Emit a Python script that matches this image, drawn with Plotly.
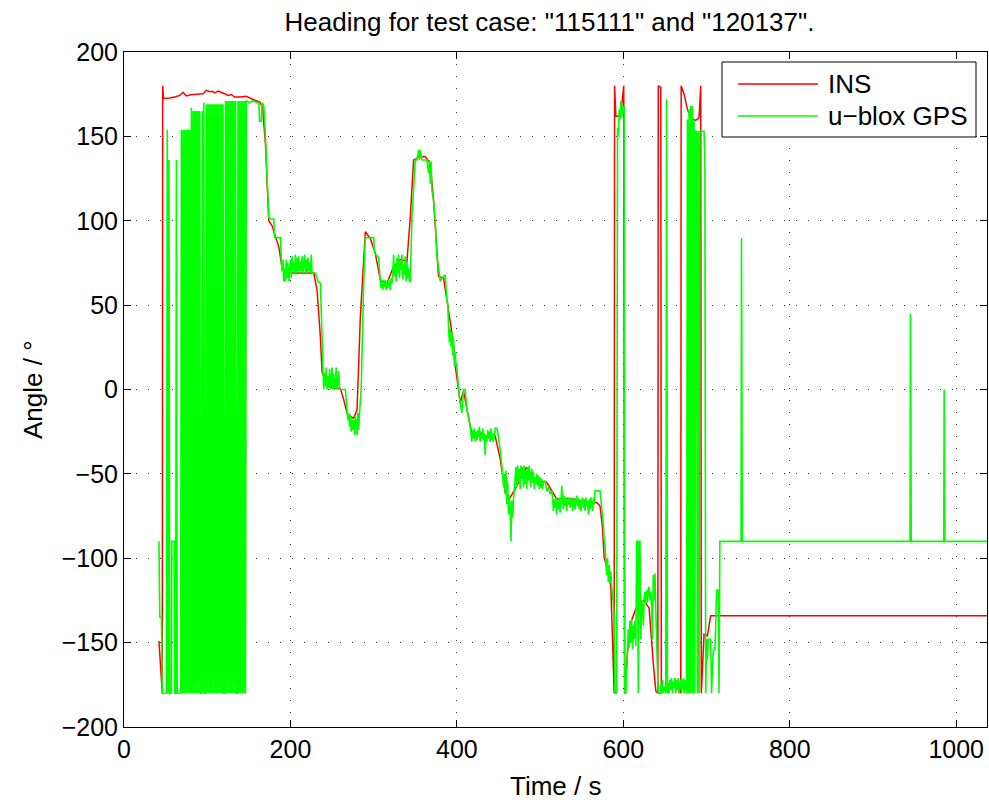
import plotly.graph_objects as go

# ---------------- INS heading (time s, angle deg) ----------------
ins_pts = [
    (42, -149), (46, -180), (46.5, 180), (47.5, 172.5), (55, 172.8), (62, 173.5), (67, 174.3),
    (71, 176), (75, 174), (80, 174.7), (88, 175), (95, 175.3), (99, 177.3), (103, 176.5),
    (106, 176.7), (109, 175.8), (113, 176.9), (117, 176), (121, 175.3), (125, 174.3),
    (129, 174.8), (133, 173.3), (140, 173.3), (147, 173.7), (153, 172.4), (157, 171.4),
    (163, 170.4), (166.5, 167.4), (170, 145), (174, 100), (178, 97), (182, 90.5), (186, 84.6),
    (190, 72), (194, 68), (200, 69), (214, 69), (228, 69), (232, 59), (236, 31), (238, 10.5),
    (242, 5.5), (246, 3), (252, 0.6), (260, 0.6), (264, -6), (268, -14), (272, -16), (276, -17),
    (280, -12), (284, 43), (290, 93.5), (296, 89.5), (302, 80.6), (308, 65), (316, 63),
    (320, 68), (324, 73), (332, 77), (340, 76), (344, 102), (348, 136), (356, 138), (362, 138),
    (368, 134), (372, 112), (378, 67), (384, 66), (388, 53), (392, 40), (396, 27), (398, 14),
    (402, 0), (404, -8), (408, -1), (413, -14), (418, -26.5), (428, -27.5), (446, -27.5),
    (452, -41), (458, -61), (464, -64), (470, -59), (477, -52), (484, -46), (492, -53),
    (500, -54), (508, -55), (514, -60), (520, -65), (530, -64.5), (540, -65), (548, -66),
    (556, -68), (568, -67), (572, -69), (575, -82), (577, -99.5), (581, -107), (585, -117),
    (589, -180), (589.5, 180), (591, 162), (597, 162), (598, 168), (600.5, 180), (601.5, -180),
    (605, -155.6), (609, -138), (615, -130), (621, -126), (625, -125), (631, -129.6),
    (636, -162), (639, -178.6), (641.5, -180), (642, 180), (645, 179), (645.7, -180),
    (649, -178), (653, -176), (660, -174), (665, -176), (669, -180), (669.5, 180), (673, 175),
    (677, 166), (681, 161), (687, 159.5), (691, 161), (693, 180), (693.7, -180), (697, -145),
    (701, -146), (705, -134), (710, -134), (715, -134), (1037, -134),
]

# ---------------- u-blox GPS heading ----------------
gps_start = [
    (42, -90), (43, -135), (45, -135), (46, -180), (47, -180), (48, -180), (49, -180),
    (50, -180), (51, -180), (52, 154), (53, -180), (54, 136), (55, -180), (56, -180),
    (57, -180), (57.5, -90), (60.5, -90), (61, -180), (62, -180), (63, 136), (64, -180),
    (65, -180), (66, -180), (67, -180), (68, -180),
]
gps_dense_t = list(range(69, 148))
gps_dense_v = [
    154, -180, 154, -180, 154, -180, 154, -180, 154, -180, 154, -180,
    167, -180, 165, -180, 165, -180, 165, -180, 165, -180, 165, -180, -180, 165, -180,
    170, -180, -180, 169, -180, 169, -180, 169, -180, 169, -180, 169, -180, 169, -180,
    169, -180, 169, -180, 169, -180, 169, -180, 169, -180, -180,
    171, -180, 171, -180, 171, -180, 171, -180, 171, -180, 171, -180, 171, -180, -180,
    171, -180, 171, -180, 171, -180, 171, -180, 171, -180, 171,
]
gps_track1 = [
    (148, 171), (150, 170), (155, 171), (160, 170), (162, 170), (163, 159), (165, 159),
    (166, 170), (168, 168), (170, 150), (172, 125), (174, 102), (175, 101), (180, 101),
    (181, 90), (188, 90), (189, 77), (190, 70), (191, 77), (192, 64), (193, 72), (194, 64),
    (195, 77), (196, 66), (197, 75), (198, 64), (199, 70), (200, 77), (201, 66), (202, 79),
    (203, 70), (204, 75), (205, 69), (206, 80), (207, 69), (208, 78), (209, 70), (210, 79),
    (211, 69), (212, 76), (213, 70), (214, 79), (215, 69), (216, 74), (217, 80), (218, 69),
    (219, 77), (220, 69), (221, 78), (222, 70), (223, 75), (224, 69), (225, 80), (226, 69),
    (230, 69), (233, 64), (236, 63), (238, 31), (240, 0), (241, 10), (242, 2), (243, 13),
    (244, 0), (245, 8), (246, 1), (247, 12), (248, 0), (249, 6), (250, 13), (251, 0),
    (252, 9), (253, 0), (254, 4), (255, 13), (256, 0), (257, 3), (258, 11), (259, 0),
    (266, 0), (268, -12), (269, -18), (270, -14), (271, -22), (272, -15), (273, -25),
    (274, -17), (275, -24), (276, -18), (277, -27), (278, -16), (279, -20), (280, -27),
    (281, -14), (282, -24), (283, -14), (285, 0), (288, 63), (290, 90), (300, 90), (301, 81),
    (306, 78), (308, 64), (309, 60), (310, 65), (311, 59), (312, 63), (313, 61), (314, 65),
    (315, 59), (316, 64), (317, 60), (318, 65), (319, 62), (320, 59), (321, 66), (322, 63),
    (323, 70), (324, 80), (325, 67), (326, 74), (327, 64), (328, 78), (329, 69), (330, 80),
    (331, 66), (332, 76), (333, 71), (334, 80), (335, 65), (336, 74), (337, 68), (338, 79),
    (339, 64), (340, 76), (341, 66), (342, 72), (343, 64), (344, 64), (346, 102), (350, 136),
    (352, 136), (354, 142), (355, 136), (356, 142), (358, 136), (364, 136), (366, 128),
    (367, 136), (368, 122), (369, 135), (370, 118), (372, 112), (374, 100), (376, 79),
    (378, 72), (380, 64), (382, 66), (386, 68), (388, 53), (389, 51), (390, 37), (391, 28),
    (392, 36), (393, 25), (394, 34), (395, 20), (396, 30), (397, 14), (398, 22), (399, 14),
    (400, 14), (402, 0), (404, -8), (406, -14), (408, 0), (410, 0), (412, -12), (414, -16),
    (416, -22), (418, -31), (419, -24), (420, -29), (421, -23), (422, -31), (423, -25),
    (424, -30), (425, -24), (426, -28), (427, -22), (428, -31), (429, -25), (430, -29),
    (431, -23), (432, -30), (433, -26), (434, -39), (435, -27), (436, -31), (437, -24),
    (438, -29), (439, -25), (440, -31), (441, -23), (442, -30), (443, -26), (444, -31),
    (446, -23), (448, -23), (450, -28),
]
gps_track2 = [
    (452, -36), (454, -45), (456, -57), (457, -50), (458, -62), (459, -48), (460, -68),
    (461, -55), (462, -74), (463, -63), (464, -70), (465, -90), (466, -66), (467, -76),
    (468, -65), (469, -60), (470, -52), (471, -46), (472, -58), (473, -45), (474, -55),
    (475, -47), (476, -59), (477, -45), (478, -53), (479, -46), (480, -58), (481, -45),
    (482, -56), (483, -48), (484, -59), (485, -46), (486, -54), (487, -45), (488, -52),
    (489, -58), (490, -47), (491, -55), (492, -49), (493, -59), (494, -52), (495, -56),
    (496, -50), (497, -57), (498, -51), (499, -59), (500, -52), (501, -58), (502, -53),
    (503, -59), (504, -55), (506, -54), (508, -60), (510, -58), (512, -62), (514, -60),
    (515, -64), (516, -72), (517, -65), (518, -70), (519, -64), (520, -74), (521, -66),
    (522, -71), (523, -64), (524, -73), (525, -67), (526, -57), (527, -65), (528, -71),
    (529, -63), (530, -69), (531, -64), (532, -72), (533, -65), (534, -68), (535, -64),
    (536, -70), (537, -64), (538, -66), (539, -72), (540, -64), (541, -68), (542, -71),
    (543, -65), (544, -63), (545, -69), (546, -64), (547, -71), (548, -65), (549, -72),
    (550, -66), (551, -64), (552, -70), (553, -65), (554, -72), (555, -64), (556, -69),
    (557, -66), (558, -74), (559, -65), (560, -71), (561, -64), (562, -67), (563, -72),
    (564, -64), (565, -68), (566, -60), (572, -60), (574, -70), (576, -80), (577, -89),
    (578, -92), (579, -102), (580, -110), (581, -100), (582, -114), (583, -104), (584, -115),
    (585, -108), (586, -117), (587, -120), (589, -135),
]
gps_wrap = [
    (590, -180), (592, -180), (593, 155), (594, 150), (595, 166), (596, 160), (597, 171),
    (598, 161), (599, 168), (600, 164), (601, 168), (601.8, -180), (603, -180), (604, -168),
    (605, -155), (606, -142), (607, -153), (608, -137), (609, -150), (610, -136), (611, -154),
    (612, -140), (613, -148), (614, -137), (615, -152), (616, -90), (617, -90), (618, -180),
    (619, -90), (620, -90), (621, -148), (622, -125), (623, -128), (624, -140), (625, -124),
    (626, -120), (627, -127), (628, -119), (629, -126), (630, -118), (631, -117), (632, -125),
    (633, -120), (634, -130), (635, -148), (636, -110), (637, -125), (638, -109), (639, -130),
    (640, -148), (641, -165), (642, -180), (644, -180), (645, -175), (646, -180), (647, -172),
    (648, -180), (649, -176), (651, -180), (652, 172), (653, -180), (654, -174), (655, -180),
    (656, -172), (657, -178), (658, -171), (659, -180), (660, -173), (661, -177), (662, -171),
    (663, -180), (664, -172), (665, -178), (666, -171), (667, -180), (668, -174), (669, -172),
    (670, -180), (671, -175), (672, -171), (673, -180), (674, -172), (676, -180), (677, 160),
    (678, -180), (679, 166), (680, -180), (681, 168), (682, -180), (683, 168), (684, -180),
    (685, 160), (686, -180), (687, 153), (688, 153), (689, -180), (690, 153), (691, -180),
    (692, 153), (697, 153), (698, 135), (699, -180), (700, -148), (701, -160), (702, -148),
    (705, -148), (706, -180), (708, -155), (710, -154), (711, -140), (712, -119), (714, -119),
    (715, -180),
]
gps_tail = [
    (716, -90), (741.5, -90), (742, 90), (743, -90), (944.5, -90), (945, 45), (946, -90),
    (985, -90), (985.5, 0), (986.5, -90), (1037, -90),
]

x_ticks = [0, 200, 400, 600, 800, 1000]
y_ticks = [-200, -150, -100, -50, 0, 50, 100, 150, 200]
title_text = 'Heading for test case: "115111" and "120137".'
x_label = "Time / s"
y_label = "Angle / °"
legend_names = ["INS", "u\u2212blox GPS"]
colors = ["#ff0000", "#00ff00"]

ins_t = [p[0] for p in ins_pts]
ins_v = [p[1] for p in ins_pts]
gps_t = [p[0] for p in gps_start] + gps_dense_t
gps_v = [p[1] for p in gps_start] + gps_dense_v
for seg in (gps_track1, gps_track2, gps_wrap, gps_tail):
    gps_t += [p[0] for p in seg]
    gps_v += [p[1] for p in seg]

FONT = "Liberation Sans, Arial, Helvetica, sans-serif"

fig = go.Figure()
fig.add_trace(go.Scatter(x=ins_t, y=ins_v, mode="lines", name=legend_names[0],
                         line=dict(color=colors[0], width=1.5, simplify=False), showlegend=False))
fig.add_trace(go.Scatter(x=gps_t, y=gps_v, mode="lines", name=legend_names[1],
                         line=dict(color=colors[1], width=1.6, simplify=False), showlegend=False))

L, R, T, B = 124, 2, 52, 73
W, H = 989, 800
pw, ph = W - L - R, H - T - B

def px(xp):
    return (xp - L) / pw

def py(yp):
    return (H - B - yp) / ph

axis_common = dict(
    ticks="inside", ticklen=7, tickcolor="black", tickwidth=1,
    showline=True, linecolor="black", linewidth=1, mirror="allticks",
    showgrid=True, gridcolor="#333333", gridwidth=1, griddash="1px,11px",
    zeroline=False, tickfont=dict(family=FONT, size=25, color="black"),
)
fig.update_layout(
    width=W, height=H,
    margin=dict(l=L, r=R, t=T, b=B),
    paper_bgcolor="white", plot_bgcolor="white",
    font=dict(family=FONT, color="black"),
    title=dict(text=title_text, x=px(549.5), xref="paper", xanchor="center",
               y=(H - 22) / H, yref="container", yanchor="middle",
               font=dict(family=FONT, size=26, color="black")),
    xaxis=dict(range=[0, 1037], tickvals=x_ticks, **axis_common),
    yaxis=dict(range=[-200, 200], tickvals=y_ticks, **axis_common),
)

# axis labels
fig.add_annotation(text=x_label, xref="paper", yref="paper", x=px(555), y=py(786),
                   xanchor="center", yanchor="middle", showarrow=False,
                   font=dict(family=FONT, size=26, color="black"))
fig.add_annotation(text=y_label, xref="paper", yref="paper", x=px(33), y=py(390),
                   xanchor="center", yanchor="middle", showarrow=False, textangle=-90,
                   font=dict(family=FONT, size=26, color="black"))

# legend box (MATLAB style)
fig.add_shape(type="rect", xref="paper", yref="paper", x0=px(722), x1=px(976),
              y0=py(137), y1=py(62), line=dict(color="black", width=1),
              fillcolor="white", layer="above")
for i, (yy, name) in enumerate([(84, legend_names[0]), (116, legend_names[1])]):
    fig.add_shape(type="line", xref="paper", yref="paper", x0=px(738), x1=px(818),
                  y0=py(yy), y1=py(yy), line=dict(color=colors[i], width=1.5), layer="above")
    fig.add_annotation(text=name, xref="paper", yref="paper", x=px(826), y=py(yy),
                       xanchor="left", yanchor="middle", showarrow=False,
                       font=dict(family=FONT, size=26, color="black"))

fig.write_html("out.html")
